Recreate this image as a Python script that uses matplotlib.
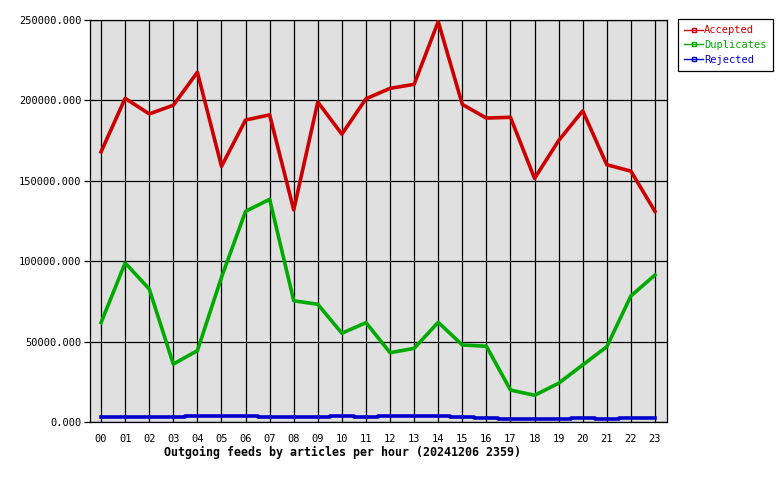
import matplotlib
matplotlib.use("Agg")
import matplotlib.pyplot as plt
from matplotlib.lines import Line2D

hours = ["00", "01", "02", "03", "04", "05", "06", "07", "08", "09", "10", "11",
         "12", "13", "14", "15", "16", "17", "18", "19", "20", "21", "22", "23"]
accepted = [168000, 201300, 191600, 197000, 217500, 159000, 187800, 191000,
            131900, 199000, 179000, 201000, 207500, 210000, 249000, 197500,
            189000, 189500, 151500, 175000, 193500, 160000, 156000, 131000]
duplicates = [61800, 98900, 82700, 36000, 44400, 90000, 131000, 138500,
              75400, 73200, 55200, 61800, 43100, 45800, 62000, 47900,
              47100, 19900, 16600, 24100, 35500, 46800, 78400, 91400]
rejected = [2900, 2900, 2900, 2900, 3500, 3500, 3500, 2900, 2900, 2900, 3500, 2900,
            3500, 3500, 3500, 2900, 2300, 1700, 1700, 1700, 2300, 1700, 2300, 2300]
yticks = [0, 50000, 100000, 150000, 200000, 250000]

plt.rcParams.update({"font.family": "DejaVu Sans Mono", "font.size": 7.5})
fig = plt.figure(figsize=(7.8, 4.8), dpi=100)
ax = fig.add_axes([90/780, 1-422/480, 577/780, 402/480])
ax.set_facecolor("#e0e0e0")
x = list(range(len(hours)))
ax.plot(x, accepted, color="#cc0000", lw=2.6, zorder=3)
ax.plot(x, duplicates, color="#00aa00", lw=2.6, zorder=3)
ax.plot(x, rejected, color="#0000cc", lw=2.6, drawstyle="steps-mid", zorder=3)
ax.set_xlim(-0.46, 23.5)
ax.set_ylim(0, 250000)
ax.set_xticks(x, hours)
ax.set_yticks(yticks, [f"{v:.3f}" for v in yticks])
ax.grid(True, color="black", lw=0.9)
ax.set_axisbelow(True)
ax.tick_params(axis="x", length=0, pad=9)
ax.tick_params(axis="y", length=4, width=0.9, pad=2)
for s in ax.spines.values():
    s.set_linewidth(0.9)
fig.text(343/780, 1-452/480, "Outgoing feeds by articles per hour (20241206 2359)",
         ha="center", va="center", fontweight="bold", fontsize=8.4)

names = ["Accepted", "Duplicates", "Rejected"]
cols = ["#cc0000", "#00aa00", "#0000cc"]
handles = [Line2D([], [], color=c, lw=1, marker="s", ms=2.5, mfc="none") for c in cols]
leg = fig.legend(handles, names, loc="upper left", bbox_to_anchor=(678/780, 1-19/480),
                 frameon=True, fancybox=False, edgecolor="black", framealpha=1,
                 handlelength=1.8, handletextpad=0.1, borderpad=0.6, labelspacing=0.45,
                 borderaxespad=0, fontsize=7.5)
leg.get_frame().set_linewidth(0.9)
for t, c in zip(leg.get_texts(), cols):
    t.set_color(c)
fig.savefig("out.png", dpi=100)
